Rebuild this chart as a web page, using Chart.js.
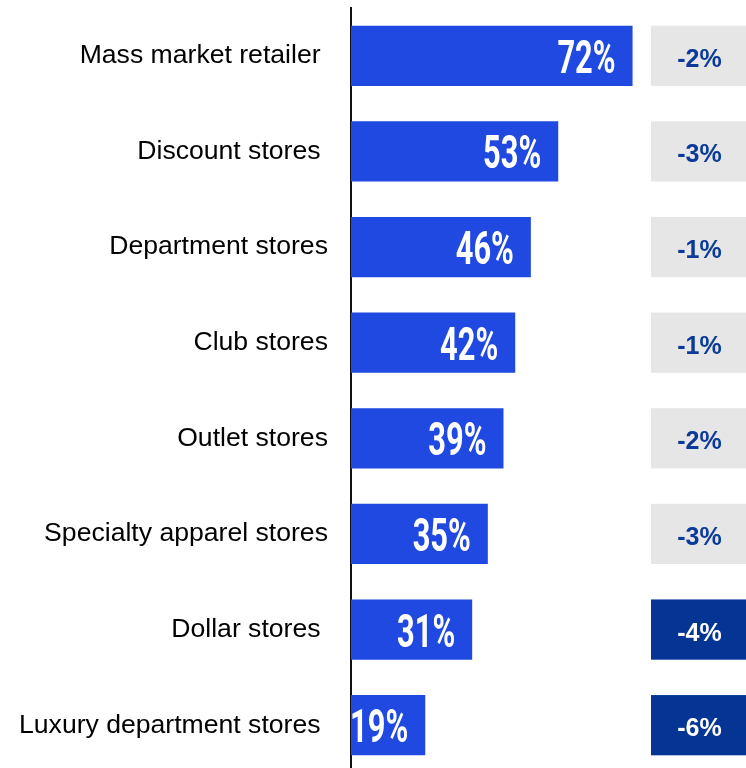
<!DOCTYPE html>
<html>
<head>
<meta charset="utf-8">
<script src="https://cdn.jsdelivr.net/npm/chart.js@4.4.1/dist/chart.umd.min.js"></script>
<style>
  html, body { margin: 0; padding: 0; background: #fff; overflow: hidden; }
  #wrap { position: relative; width: 746px; height: 773px; }
</style>
</head>
<body>
<div id="wrap"><canvas id="chart"></canvas></div>
<script>
// store formats, share of shoppers, and change vs. last period
const channels = [
    'Mass market retailer ',
    'Discount stores ',
    'Department stores',
    'Club stores',
    'Outlet stores',
    'Specialty apparel stores',
    'Dollar stores ',
    'Luxury department stores '
];
const shares = [72, 53, 46, 42, 39, 35, 31, 19];
const changes = [-2, -3, -1, -1, -2, -3, -4, -6];

const BAR_BLUE = '#1F49E0';
const NAVY = '#043594';
const LIGHT_GREY = '#E6E6E6';

// white condensed percentage at the end of each bar
const barValues = {
    id: 'barValues',
    afterDatasetsDraw(chart) {
        const ctx = chart.ctx;
        const meta = chart.getDatasetMeta(0);
        ctx.save();
        ctx.fillStyle = '#fff';
        ctx.font = 'bold 46px Roboto';
        ctx.textAlign = 'right';
        ctx.textBaseline = 'alphabetic';
        meta.data.forEach((bar, i) => {
            ctx.save();
            ctx.translate(bar.x - 17, bar.y + 17);
            ctx.scale(0.67, 1);
            ctx.fillText(shares[i] + '%', 0, 0);
            ctx.restore();
        });
        ctx.restore();
    }
};

// change boxes down the right edge, big drops in navy
const changeBoxes = {
    id: 'changeBoxes',
    afterDatasetsDraw(chart) {
        const ctx = chart.ctx;
        const area = chart.chartArea;
        const meta = chart.getDatasetMeta(0);
        const boxW = 95;
        ctx.save();
        ctx.font = 'bold 25px "Liberation Sans", Arial, sans-serif';
        ctx.textAlign = 'center';
        ctx.textBaseline = 'alphabetic';
        meta.data.forEach((bar, i) => {
            const big = Math.abs(changes[i]) >= 4;
            const top = bar.y - bar.height / 2;
            ctx.fillStyle = big ? NAVY : LIGHT_GREY;
            ctx.fillRect(area.right - boxW, top, boxW, bar.height);
            ctx.fillStyle = big ? '#fff' : '#0B3A98';
            ctx.fillText(changes[i] + '%', area.right - boxW / 2 + 1, bar.y + 11);
        });
        ctx.restore();
    }
};

new Chart(document.getElementById('chart'), {
    type: 'bar',
    data: {
        labels: channels,
        datasets: [{
            data: shares,
            backgroundColor: BAR_BLUE,
            borderWidth: 0,
            categoryPercentage: 1,
            barPercentage: 0.63
        }]
    },
    options: {
        indexAxis: 'y',
        responsive: true,
        maintainAspectRatio: false,
        animation: false,
        layout: { padding: { top: 8, right: 0, bottom: 0, left: 0 } },
        plugins: {
            legend: { display: false },
            tooltip: { enabled: false }
        },
        scales: {
            x: {
                display: false,
                min: 0,
                max: 101
            },
            y: {
                grid: { display: true, drawOnChartArea: false, drawTicks: false, color: 'transparent' },
                border: { display: true, color: '#111', width: 2 },
                ticks: {
                    color: '#000',
                    padding: 23,
                    font: { family: '"Liberation Sans", Arial, sans-serif', size: 26.6 }
                },
                // labels sit in the middle of each row, so no extra room above/below;
                // also trim the spare gap left of the longest label
                afterFit(scale) {
                    scale.paddingTop = 0;
                    scale.paddingBottom = 0;
                    scale.width -= 4;
                }
            }
        }
    },
    plugins: [barValues, changeBoxes]
});
</script>
</body>
</html>
